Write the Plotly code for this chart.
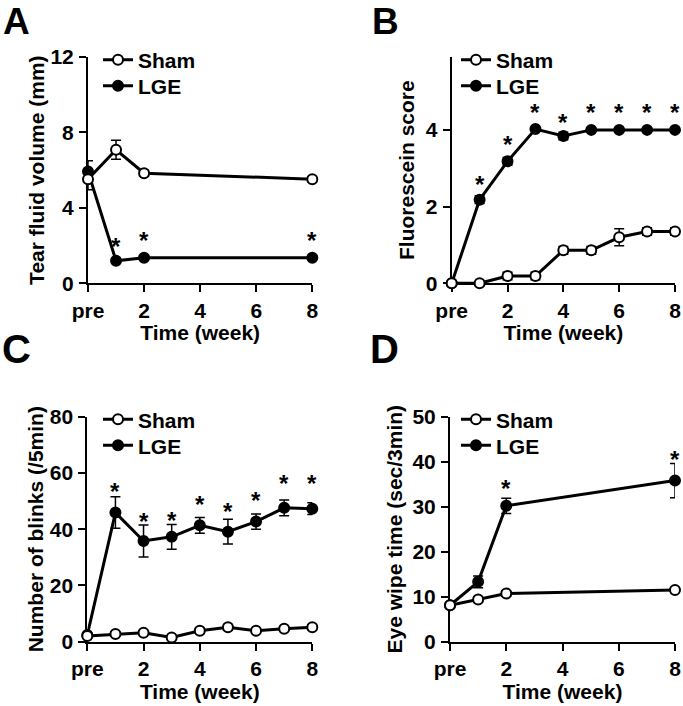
import plotly.graph_objects as go

# ---------------- data ----------------
tick_vals = [0, 2, 4, 6, 8]
tick_text = ["pre", "2", "4", "6", "8"]

# Panel A: tear fluid volume
a_weeks = [0, 1, 2, 8]
a_sham = [5.52, 7.08, 5.84, 5.52]
a_sham_err = [0.56, 0.5, 0.15, 0.12]
a_lge = [5.93, 1.19, 1.36, 1.36]
a_lge_err = [0.57, 0.12, 0.1, 0.1]
a_star_x = [1, 2, 8]
a_star_y = [2.21, 2.51, 2.51]

# Panel B: fluorescein score
b_weeks = [0, 1, 2, 3, 4, 5, 6, 7, 8]
b_sham = [0, 0, 0.19, 0.19, 0.86, 0.86, 1.2, 1.35, 1.35]
b_sham_err = [0, 0, 0.1, 0.1, 0.1, 0.1, 0.22, 0.1, 0.1]
b_lge = [0, 2.18, 3.18, 4.02, 3.84, 4.0, 4.0, 4.0, 4.0]
b_lge_err = [0, 0.1, 0.1, 0, 0.1, 0, 0, 0, 0]
b_star_x = [1, 2, 3, 4, 5, 6, 7, 8]
b_star_y = [2.71, 3.76, 4.59, 4.32, 4.59, 4.59, 4.59, 4.59]

# Panel C: number of blinks
c_weeks = [0, 1, 2, 3, 4, 5, 6, 7, 8]
c_sham = [2.0, 2.7, 3.2, 1.5, 3.9, 5.1, 3.9, 4.6, 5.1]
c_sham_err = [0.8, 0.8, 0.8, 0.6, 1.0, 1.0, 0.8, 0.8, 0.8]
c_lge = [2.4, 45.9, 35.8, 37.3, 41.4, 39.1, 42.7, 47.6, 47.3]
c_lge_err = [0.8, 5.6, 5.7, 4.4, 2.8, 4.4, 2.7, 2.8, 2.1]
c_star_x = [1, 2, 3, 4, 5, 6, 7, 8]
c_star_y = [55.1, 44.4, 45.0, 50.4, 48.0, 52.1, 58.1, 58.1]

# Panel D: eye wipe time
d_weeks = [0, 1, 2, 8]
d_sham = [8.1, 9.4, 10.7, 11.5]
d_sham_err = [0.6, 0.6, 0.6, 0.6]
d_lge = [8.1, 13.3, 30.2, 35.8]
d_lge_err = [0.6, 1.3, 1.7, 3.8]
d_star_x = [2, 8]
d_star_y = [35.2, 41.6]

# ---------------- figure ----------------
W, H = 683, 706
FONT = "Liberation Sans, Arial, sans-serif"

fig = go.Figure()

def px_x(p):
    return p / W

def px_y(p):
    return 1 - p / H

panels = [
    (a_weeks, a_sham, a_sham_err, a_lge, a_lge_err, a_star_x, a_star_y,
     (88, 312.3), (57, 283.3), [0, 12], [0, 4, 8, 12], "Tear fluid volume (mm)", 98, 0),
    (b_weeks, b_sham, b_sham_err, b_lge, b_lge_err, b_star_x, b_star_y,
     (451.7, 675), (57, 283.3), [0, 5.9], [0, 2, 4], "Fluorescein score", 456, 5),
    (c_weeks, c_sham, c_sham_err, c_lge, c_lge_err, c_star_x, c_star_y,
     (87.3, 312.3), (416.7, 641.7), [0, 80], [0, 20, 40, 60, 80], "Number of blinks (/5min)", 98, 0),
    (d_weeks, d_sham, d_sham_err, d_lge, d_lge_err, d_star_x, d_star_y,
     (450, 675), (416.7, 641.7), [0, 50], [0, 10, 20, 30, 40, 50], "Eye wipe time (sec/3min)", 456, 4),
]

axis_common = dict(
    showline=True, linecolor="black", linewidth=2,
    ticks="outside", ticklen=7, tickwidth=2, tickcolor="black",
    showgrid=False, zeroline=False, layer="below traces", automargin=False,
    tickfont=dict(family=FONT, size=21, color="black", weight="bold"),
)

legend_common = dict(
    xanchor="left", yanchor="middle",
    bgcolor="rgba(0,0,0,0)", borderwidth=0, tracegroupgap=0,
    font=dict(family=FONT, size=21, color="black", weight="bold"),
    itemwidth=30,
)

layout_updates = {}
annotations = []

for i, (wk, sh, she, lg, lge, sx, sy, xd, yd, yr, ytv, ytitle, legx, ystand) in enumerate(panels):
    n = i + 1
    xa = "x" if n == 1 else f"x{n}"
    ya = "y" if n == 1 else f"y{n}"
    leg_sham = "legend" if n == 1 else f"legend{2 * n - 1}"
    leg_lge = f"legend{2 * n}"

    fig.add_trace(go.Scatter(
        x=wk, y=lg, mode="lines+markers", name="LGE",
        xaxis=xa, yaxis=ya, legend=leg_lge, cliponaxis=False,
        line=dict(color="black", width=3),
        marker=dict(symbol="circle", size=10, color="black",
                    line=dict(color="black", width=2)),
        error_y=dict(type="data", array=lge, visible=True, color="black",
                     thickness=1.5, width=5),
    ))
    fig.add_trace(go.Scatter(
        x=wk, y=sh, mode="lines+markers", name="Sham",
        xaxis=xa, yaxis=ya, legend=leg_sham, cliponaxis=False,
        line=dict(color="black", width=3),
        marker=dict(symbol="circle", size=10, color="white",
                    line=dict(color="black", width=2)),
        error_y=dict(type="data", array=she, visible=True, color="black",
                     thickness=1.5, width=5),
    ))

    xkey = "xaxis" if n == 1 else f"xaxis{n}"
    ykey = "yaxis" if n == 1 else f"yaxis{n}"
    layout_updates[xkey] = dict(
        axis_common, domain=[px_x(xd[0]), px_x(xd[1])], range=[0, 8],
        tickvals=tick_vals, ticktext=tick_text, anchor=ya,
        title=dict(text="Time (week)", standoff=4,
                   font=dict(family=FONT, size=21, color="black", weight="bold")),
    )
    layout_updates[ykey] = dict(
        axis_common, domain=[px_y(yd[1]), px_y(yd[0])], range=yr,
        tickvals=ytv, anchor=xa, ticklabelstandoff=1,
        title=dict(text=ytitle, standoff=ystand,
                   font=dict(family=FONT, size=21, color="black", weight="bold")),
    )
    layout_updates[leg_sham] = dict(legend_common, x=px_x(legx), y=px_y(yd[0] + 3))
    layout_updates[leg_lge] = dict(legend_common, x=px_x(legx), y=px_y(yd[0] + 29))

    for x_, y_ in zip(sx, sy):
        annotations.append(dict(
            x=x_, y=y_, xref=xa, yref=ya, text="*", showarrow=False,
            xanchor="center", yanchor="middle", yshift=-5,
            font=dict(family=FONT, size=24, color="black", weight="bold"),
        ))

letters = [("A", 16, 21, 37), ("B", 385, 21, 37), ("C", 16, 349, 40), ("D", 384, 349, 40)]
for txt, cx, cy, fs in letters:
    annotations.append(dict(
        x=px_x(cx), y=px_y(cy), xref="paper", yref="paper", text=txt,
        showarrow=False, xanchor="center", yanchor="middle",
        font=dict(family=FONT, size=fs, color="black", weight="bold"),
    ))

fig.update_layout(
    width=W, height=H,
    margin=dict(l=0, r=0, t=0, b=0, autoexpand=False),
    paper_bgcolor="white", plot_bgcolor="white",
    showlegend=True,
    annotations=annotations,
    **layout_updates,
)

fig.write_html("out.html", config={"displayModeBar": False},
               post_script="document.body.style.margin='0';")
